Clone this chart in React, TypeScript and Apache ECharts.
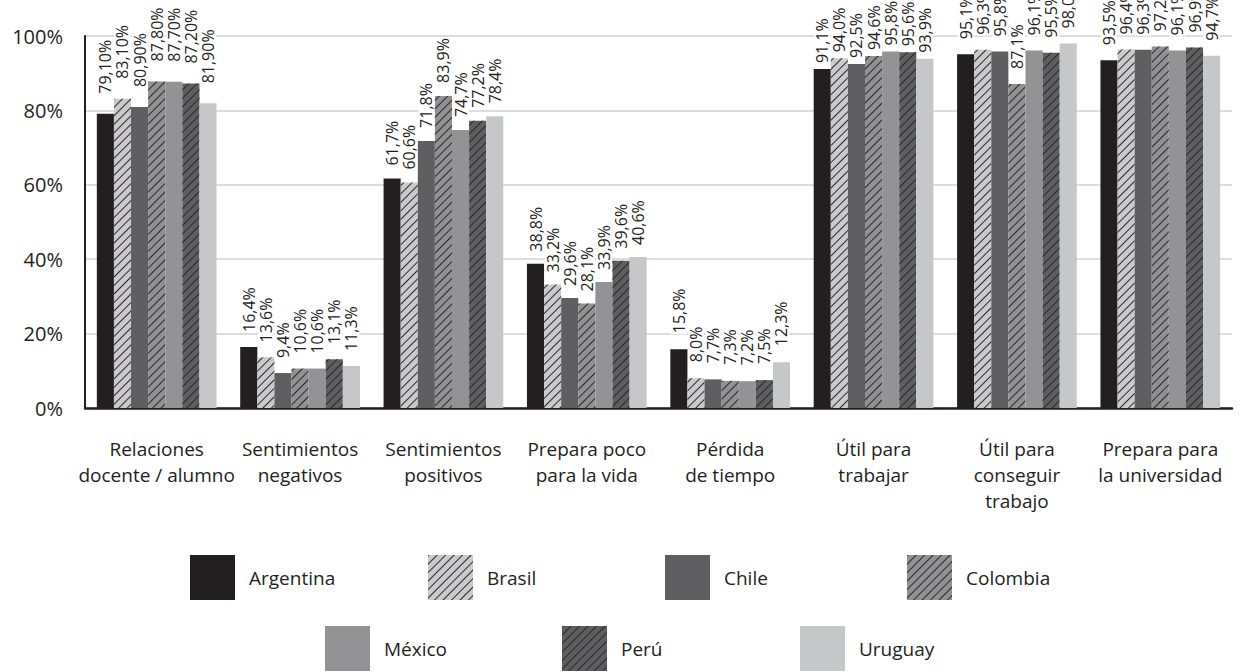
import React, { useEffect, useRef } from "react";
import * as echarts from "echarts";

// Survey dimensions (x-axis categories)
const categories = [
  "Relaciones\ndocente / alumno",
  "Sentimientos\nnegativos",
  "Sentimientos\npositivos",
  "Prepara poco\npara la vida",
  "Pérdida\nde tiempo",
  "Útil para\ntrabajar",
  "Útil para\nconseguir\ntrabajo",
  "Prepara para\nla universidad",
];

// Decimal places shown in each category's value labels
const labelDecimals = [2, 1, 1, 1, 1, 1, 1, 1];

// Percentages per country, in category order
const argentina = [79.1, 16.4, 61.7, 38.8, 15.8, 91.1, 95.1, 93.5];
const brasil = [83.1, 13.6, 60.6, 33.2, 8.0, 94.0, 96.3, 96.4];
const chile = [80.9, 9.4, 71.8, 29.6, 7.7, 92.5, 95.8, 96.3];
const colombia = [87.8, 10.6, 83.9, 28.1, 7.3, 94.6, 87.1, 97.2];
const mexico = [87.7, 10.6, 74.7, 33.9, 7.2, 95.8, 96.1, 96.1];
const peru = [87.2, 13.1, 77.2, 39.6, 7.5, 95.6, 95.5, 96.9];
const uruguay = [81.9, 11.3, 78.4, 40.6, 12.3, 93.9, 98.0, 94.7];

// Y-axis ticks
const yTicks = [0, 20, 40, 60, 80, 100];

// Space between a bar's top and its value label, per category
const labelGaps = [19, 14, 12, 11, 15, 5, 14, 14];

const FONT = "'Open Sans', sans-serif";
const INK = "#231f20";

// Thin diagonal stripes rising to the right
const hatch = {
  symbol: "rect",
  symbolSize: 1,
  color: "#2b2829",
  dashArrayX: [1, 0],
  dashArrayY: [1, 5],
  rotation: -Math.PI / 4,
};

const seriesDefs = [
  { name: "Argentina", data: argentina, color: "#231f20", hatched: false, legend: [190, 555] },
  { name: "Brasil", data: brasil, color: "#cacacc", hatched: true, legend: [428, 555] },
  { name: "Chile", data: chile, color: "#5f5f61", hatched: false, legend: [665, 555] },
  { name: "Colombia", data: colombia, color: "#919193", hatched: true, legend: [907, 555] },
  { name: "México", data: mexico, color: "#939396", hatched: false, legend: [325, 626] },
  { name: "Perú", data: peru, color: "#5e5e60", hatched: true, legend: [562, 626] },
  { name: "Uruguay", data: uruguay, color: "#c6c7c9", hatched: false, legend: [800, 626] },
];

function formatPct(v: number, idx: number): string {
  return v.toFixed(labelDecimals[idx]).replace(".", ",") + "%";
}

export default function App() {
  const ref = useRef<HTMLDivElement>(null);

  useEffect(() => {
    if (!ref.current) return;
    const chart = echarts.init(ref.current, undefined, { renderer: "svg" });

    const series = seriesDefs.map((s) => ({
      name: s.name,
      type: "bar",
      data: s.data.map((v, i) => ({ value: v, label: { distance: labelGaps[i] } })),
      barGap: "0%",
      barCategoryGap: "16.5%",
      itemStyle: {
        color: s.color,
        decal: s.hatched ? hatch : undefined,
      },
      label: {
        show: true,
        position: "top",
        rotate: 90,
        align: "left",
        verticalAlign: "middle",
        fontFamily: FONT,
        fontSize: 16,
        lineHeight: 16,
        color: INK,
        backgroundColor: "#ffffff",
        padding: [0, 1],
        formatter: (p: any) => formatPct(p.value, p.dataIndex),
      },
    }));

    const legends = seriesDefs.map((s) => ({
      data: [s.name],
      left: s.legend[0],
      top: s.legend[1],
      orient: "horizontal",
      padding: 0,
      icon: "rect",
      itemWidth: 45,
      itemHeight: 45,
      selectedMode: false,
      textStyle: {
        fontFamily: FONT,
        fontSize: 19,
        color: INK,
        padding: [0, 0, 0, 9],
      },
    }));

    chart.setOption({
      animation: false,
      backgroundColor: "#ffffff",
      grid: { left: 85, right: 9, top: 36, bottom: 264, containLabel: false },
      legend: legends,
      xAxis: {
        type: "category",
        data: categories,
        axisLine: { show: true, lineStyle: { color: INK, width: 2.5 } },
        axisTick: { show: false },
        axisLabel: {
          interval: 0,
          margin: 28,
          fontFamily: FONT,
          fontSize: 19,
          lineHeight: 26,
          color: INK,
        },
      },
      yAxis: {
        type: "value",
        min: yTicks[0],
        max: yTicks[yTicks.length - 1],
        interval: yTicks[1] - yTicks[0],
        axisLine: { show: true, lineStyle: { color: INK, width: 2 } },
        axisTick: { show: false },
        splitLine: { show: true, lineStyle: { color: "#d2d2d2", width: 1.5 } },
        axisLabel: {
          margin: 22,
          fontFamily: FONT,
          fontSize: 20,
          color: INK,
          formatter: (v: number) => `${v}%`,
        },
      },
      series,
    });

    return () => chart.dispose();
  }, []);

  return (
    <div
      ref={ref}
      style={{ position: "fixed", left: 0, top: 0, width: 1241, height: 672, background: "#fff" }}
    />
  );
}
